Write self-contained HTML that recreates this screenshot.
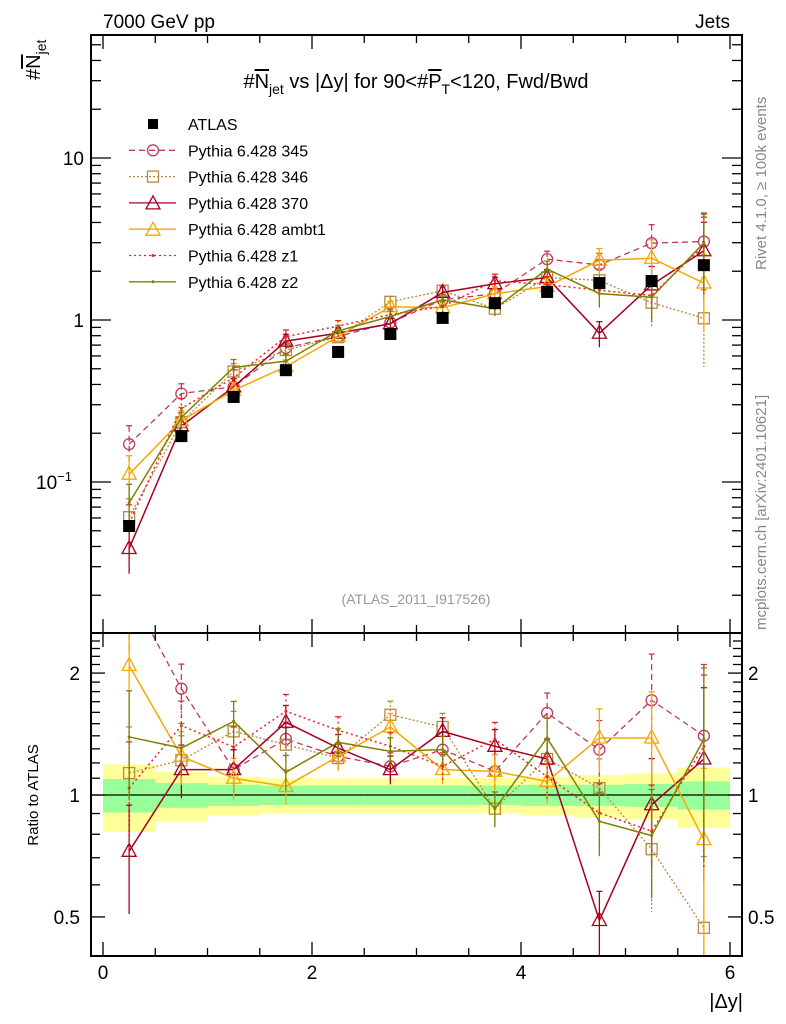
<!DOCTYPE html>
<html><head><meta charset="utf-8">
<style>
html,body{margin:0;padding:0;background:#fff;}
svg{display:block;font-family:"Liberation Sans",sans-serif;}
</style></head>
<body>
<svg id="chart" width="786" height="1024" viewBox="0 0 786 1024" xmlns="http://www.w3.org/2000/svg">
<g id="bands"></g>
<g id="marks"></g>
<g id="axes"></g>
<g id="legend"></g>
<text x="103" y="28" font-size="19">7000 GeV pp</text>
<text x="730" y="28" font-size="19" text-anchor="end">Jets</text>
<text x="416" y="88" font-size="20" text-anchor="middle">#<tspan text-decoration="overline">N</tspan><tspan font-size="14" dy="6">jet</tspan><tspan dy="-6"> vs |Δy| for 90&lt;#</tspan><tspan text-decoration="overline">P</tspan><tspan font-size="14" dy="6">T</tspan><tspan dy="-6">&lt;120, Fwd/Bwd</tspan></text>
<text transform="translate(40,80) rotate(-90)" font-size="20">#<tspan text-decoration="overline">N</tspan><tspan font-size="14" dy="6">jet</tspan></text>
<text transform="translate(38,795) rotate(-90)" font-size="15" text-anchor="middle">Ratio to ATLAS</text>
<text x="743" y="1008" font-size="20" text-anchor="end">|Δy|</text>
<text x="416" y="604" font-size="14" fill="#999" text-anchor="middle">(ATLAS_2011_I917526)</text>
<text transform="translate(766,270) rotate(-90)" font-size="15" fill="#888">Rivet 4.1.0, ≥ 100k events</text>
<text transform="translate(766,630) rotate(-90)" font-size="15" fill="#888">mcplots.cern.ch [arXiv:2401.10621]</text>
</svg>
<script>
const xCenters=[0.25,0.75,1.25,1.75,2.25,2.75,3.25,3.75,4.25,4.75,5.25,5.75];
const atlas=[0.0535,0.192,0.335,0.49,0.635,0.82,1.03,1.27,1.49,1.69,1.74,2.18];
const statBand=[0.095,0.07,0.06,0.055,0.055,0.055,0.055,0.055,0.06,0.06,0.065,0.08];
const totBand=[0.19,0.14,0.11,0.1,0.1,0.1,0.1,0.1,0.11,0.12,0.13,0.17];
const r345=[3.2,1.83,1.155,1.375,1.246,1.177,1.294,1.144,1.594,1.294,1.714,1.40];
const r346=[1.133,1.218,1.436,1.331,1.234,1.578,1.472,0.925,1.227,1.04,0.735,0.47];
const r370=[0.726,1.155,1.155,1.512,1.306,1.155,1.436,1.319,1.227,0.49,0.946,1.227];
const rAmbt1=[2.088,1.246,1.10,1.05,1.246,1.472,1.155,1.144,1.08,1.383,1.383,0.776];
const rZ1=[1.04,1.483,1.314,1.61,1.445,1.319,1.177,1.373,1.11,0.903,0.814,1.319];
const rZ2=[1.391,1.306,1.52,1.138,1.349,1.282,1.294,0.925,1.383,0.861,0.794,1.373];
const mcErr=[0.3,0.15,0.12,0.1,0.08,0.08,0.08,0.1,0.12,0.18,0.3,0.5];
const xTicks=[0,2,4,6];
const yTicksMain=[{v:10,l:"10"},{v:1,l:"1"},{v:0.1,l:"10"}];
const yTicksRatio=[{v:2,l:"2"},{v:1,l:"1"},{v:0.5,l:"0.5"}];

const NS="http://www.w3.org/2000/svg";
const L=91,R=742,T=35,MB=633,RB=956;
const xs=v=>103+v*(730-103)/6;
const yM=v=>320-162*Math.log10(v);
const yR=v=>795-405*Math.log10(v);
function mk(tag,parent,attrs){const e=document.createElementNS(NS,tag);for(const k in attrs)e.setAttribute(k,attrs[k]);parent.appendChild(e);return e;}
const svg=document.getElementById('chart');
const defs=mk('defs',svg,{});
const c1=mk('clipPath',defs,{id:'cm'});mk('rect',c1,{x:L,y:T,width:R-L,height:MB-T});
const c2=mk('clipPath',defs,{id:'cr'});mk('rect',c2,{x:L,y:MB,width:R-L,height:RB-MB});

const bands=document.getElementById('bands');
xCenters.forEach((c,i)=>{
  const x0=xs(c-0.25),x1=xs(c+0.25);
  let e=mk('rect',bands,{x:x0,y:yR(1+totBand[i]),width:x1-x0,height:yR(1-totBand[i])-yR(1+totBand[i]),fill:'#ffff99'});
  
  
  e=mk('rect',bands,{x:x0,y:yR(1+statBand[i]),width:x1-x0,height:yR(1-statBand[i])-yR(1+statBand[i]),fill:'#99ff99'});
  
  
});

const series=[
 {name:'Pythia 6.428 345',id:'p345',r:r345,col:'#c0395a',dash:'6,4',mark:'circle',w:1.3},
 {name:'Pythia 6.428 346',id:'p346',r:r346,col:'#b8893e',dash:'2,2',mark:'square',w:1.3},
 {name:'Pythia 6.428 370',id:'p370',r:r370,col:'#a50021',dash:'',mark:'tri',w:1.5},
 {name:'Pythia 6.428 ambt1',id:'ambt1',r:rAmbt1,col:'#f5a800',dash:'',mark:'tri',w:1.5},
 {name:'Pythia 6.428 z1',id:'z1',r:rZ1,col:'#ee2222',dash:'2,3',mark:'dot',w:1.5},
 {name:'Pythia 6.428 z2',id:'z2',r:rZ2,col:'#808000',dash:'',mark:'dot',w:1.5}
];
function marker(g,type,x,y,col){
  let e;
  if(type==='circle')e=mk('circle',g,{cx:x,cy:y,r:5.5,fill:'none',stroke:col,'stroke-width':1.3});
  else if(type==='square')e=mk('rect',g,{x:x-5.5,y:y-5.5,width:11,height:11,fill:'none',stroke:col,'stroke-width':1.3});
  else if(type==='tri')e=mk('polygon',g,{points:`${x},${y-8} ${x-7},${y+5} ${x+7},${y+5}`,fill:'none',stroke:col,'stroke-width':1.3});
  else if(type==='dot')e=mk('circle',g,{cx:x,cy:y,r:1.5,fill:col});
  else e=mk('rect',g,{x:x-6,y:y-6,width:12,height:12,fill:'#000'});
  return e;
}
const marks=document.getElementById('marks');
const gm=mk('g',marks,{'clip-path':'url(#cm)'});
const gr=mk('g',marks,{'clip-path':'url(#cr)'});
mk('line',gr,{x1:L,x2:R,y1:yR(1),y2:yR(1),stroke:'#000','stroke-width':1.3});
series.forEach(s=>{
  [[gm,i=>atlas[i]*s.r[i],yM],[gr,i=>s.r[i],yR]].forEach(([g,val,ys],pi)=>{
    const sg=mk('g',g,{});
    
    
    const pts=xCenters.map((c,i)=>xs(c)+','+ys(val(i))).join(' ');
    mk('polyline',sg,{points:pts,fill:'none',stroke:s.col,'stroke-width':s.w,'stroke-dasharray':s.dash});
    xCenters.forEach((c,i)=>{
      const v=val(i),x=xs(c),e=mcErr[i];
      mk('line',sg,{x1:x,x2:x,y1:ys(v*(1+e)),y2:ys(Math.max(v*(1-e),1e-4)),stroke:s.col,'stroke-width':1.3,'stroke-dasharray':s.dash});
      mk('line',sg,{x1:x-3,x2:x+3,y1:ys(v*(1+e)),y2:ys(v*(1+e)),stroke:s.col,'stroke-width':1.3});
      const m=marker(sg,s.mark,x,ys(v),s.col);
      
      
    });
  });
});
const ga=mk('g',gm,{});


xCenters.forEach((c,i)=>{
  const m=marker(ga,'atlas',xs(c),yM(atlas[i]),'#000');
  
  
});

const ax=document.getElementById('axes');
mk('rect',ax,{x:L,y:T,width:R-L,height:MB-T,fill:'none',stroke:'#000','stroke-width':2});
mk('rect',ax,{x:L,y:MB,width:R-L,height:RB-MB,fill:'none',stroke:'#000','stroke-width':2});
for(let v=0;v<=6.01;v+=0.5){
  const x=xs(v),big=Math.abs(v-Math.round(v/2)*2)<1e-6;
  const len=big?14:8;
  [[T,1],[MB,-1],[MB,1],[RB,-1]].forEach(([y,d])=>mk('line',ax,{x1:x,x2:x,y1:y,y2:y+d*len,stroke:'#000','stroke-width':1.3}));
}
xTicks.forEach(v=>{const t=mk('text',ax,{x:xs(v),y:979,'font-size':19,'text-anchor':'middle'});t.textContent=v;
  
  });
for(let d=-2;d<=1;d++)for(let k=1;k<10;k++){
  const v=k*Math.pow(10,d),y=yM(v);if(y<T||y>MB)continue;
  const len=k===1?20:10;
  mk('line',ax,{x1:L,x2:L+len,y1:y,y2:y,stroke:'#000','stroke-width':1.3});
  mk('line',ax,{x1:R,x2:R-len,y1:y,y2:y,stroke:'#000','stroke-width':1.3});
}
yTicksMain.forEach((t,i)=>{
  const e=mk('text',ax,{x:84,y:yM(t.v)+7,'font-size':19,'text-anchor':'end'});
  
  
  if(t.v<1){e.setAttribute('x',72);e.textContent=t.l;const s=mk('tspan',e,{'font-size':13,dy:-8});s.textContent='−1';}
  else e.textContent=t.l;
});
const rmin=[0.5,0.6,0.7,0.8,0.9,1,1.1,1.2,1.3,1.4,1.5,1.6,1.7,1.8,1.9,2,2.1,2.2,2.3,2.4];
rmin.forEach(v=>{const y=yR(v);const big=[0.5,1,2].includes(v);const len=big?14:9;
  mk('line',ax,{x1:L,x2:L+len,y1:y,y2:y,stroke:'#000','stroke-width':1.3});
  mk('line',ax,{x1:R,x2:R-len,y1:y,y2:y,stroke:'#000','stroke-width':1.3});});
yTicksRatio.forEach(t=>{
  let e=mk('text',ax,{x:80,y:yR(t.v)+7,'font-size':19,'text-anchor':'end'});e.textContent=t.l;
  
  
  e=mk('text',ax,{x:748,y:yR(t.v)+7,'font-size':19});e.textContent=t.l;
  
  
});

const lg=document.getElementById('legend');
const rows=[{name:'ATLAS',mark:'atlas',col:'#000',dash:null}].concat(series);
rows.forEach((s,i)=>{
  const y=124+i*26.3;
  const g=mk('g',lg,{});
  
  
  if(s.dash!==null){mk('line',g,{x1:129,x2:176,y1:y,y2:y,stroke:s.col,'stroke-width':1.3,'stroke-dasharray':s.dash});}
  if(s.mark==='atlas')mk('rect',g,{x:148,y:y-5,width:10,height:10,fill:'#000'});
  else marker(g,s.mark,153,y+(s.mark==='tri'?1:0),s.col);
  const t=mk('text',g,{x:188,y:y+6,'font-size':16});t.textContent=s.name;
});
</script>
</body></html>
